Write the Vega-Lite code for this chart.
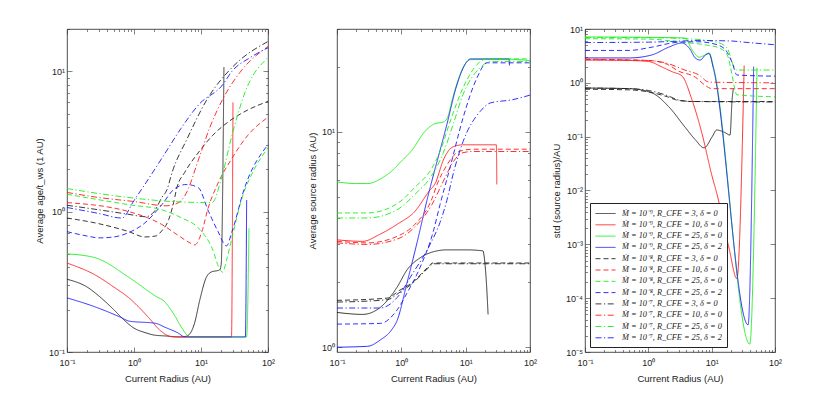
{
"$schema":"https://vega.github.io/schema/vega-lite/v6.json",
"background":"white",
"padding":{"left":34,"top":24,"right":5,"bottom":5},
"config":{
 "font":"Liberation Sans",
 "view":{"stroke":"#222","strokeWidth":0.8},
 "axis":{"grid":false,"domain":false,"labelFont":"Liberation Sans","labelFontSize":9,"titleFont":"Liberation Sans","titleFontSize":9.5,"titleFontWeight":"normal","labelColor":"#222","titleColor":"#222","tickColor":"#333","tickWidth":0.6,"labelOverlap":false,"labelFlush":false,"labelPadding":7.5,
  "tickSize":{"condition":{"test":"abs(log(datum.value)/LN10 - round(log(datum.value)/LN10)) < 0.001","value":-5},"value":-2.5},
  "labelExpr":"abs(log(datum.value)/LN10 - round(log(datum.value)/LN10)) < 0.001 ? '10' + (round(log(datum.value)/LN10) < 0 ? '⁻' : '') + ['⁰','¹','²','³','⁴','⁵'][abs(round(log(datum.value)/LN10))] : ''"},
 "axisX":{"labelPadding":11},
 "line":{"strokeWidth":0.9,"interpolate":"monotone","clip":true}
},
"datasets":{
"a":[
{"s":"9,3,0","x":0.1,"y":0.33},{"s":"9,3,0","x":0.2,"y":0.29},{"s":"9,3,0","x":0.31,"y":0.247},{"s":"9,3,0","x":0.5,"y":0.2},{"s":"9,3,0","x":0.7,"y":0.17},{"s":"9,3,0","x":1,"y":0.148},{"s":"9,3,0","x":1.5,"y":0.137},{"s":"9,3,0","x":2,"y":0.132},{"s":"9,3,0","x":3,"y":0.13},{"s":"9,3,0","x":5,"y":0.128},{"s":"9,3,0","x":6.2,"y":0.13},{"s":"9,3,0","x":8,"y":0.16},{"s":"9,3,0","x":9.6,"y":0.235},{"s":"9,3,0","x":12,"y":0.34},{"s":"9,3,0","x":14,"y":0.37},{"s":"9,3,0","x":19,"y":0.385},{"s":"9,3,0","x":20,"y":0.42},{"s":"9,3,0","x":22,"y":10.7},
{"s":"9,10,0","x":0.1,"y":0.43},{"s":"9,10,0","x":0.26,"y":0.355},{"s":"9,10,0","x":0.5,"y":0.29},{"s":"9,10,0","x":0.84,"y":0.243},{"s":"9,10,0","x":1.67,"y":0.175},{"s":"9,10,0","x":2.4,"y":0.144},{"s":"9,10,0","x":3.3,"y":0.13},{"s":"9,10,0","x":4,"y":0.128},{"s":"9,10,0","x":28.5,"y":0.128},{"s":"9,10,0","x":30,"y":6.0},
{"s":"9,25,0","x":0.1,"y":0.5},{"s":"9,25,0","x":0.26,"y":0.47},{"s":"9,25,0","x":0.84,"y":0.34},{"s":"9,25,0","x":2.1,"y":0.25},{"s":"9,25,0","x":2.9,"y":0.227},{"s":"9,25,0","x":3.3,"y":0.21},{"s":"9,25,0","x":4.1,"y":0.18},{"s":"9,25,0","x":5.2,"y":0.148},{"s":"9,25,0","x":6.4,"y":0.13},{"s":"9,25,0","x":7,"y":0.128},{"s":"9,25,0","x":48,"y":0.128},{"s":"9,25,0","x":52,"y":0.76},
{"s":"9,25,2","x":0.1,"y":0.243},{"s":"9,25,2","x":0.26,"y":0.21},{"s":"9,25,2","x":0.66,"y":0.175},{"s":"9,25,2","x":0.84,"y":0.166},{"s":"9,25,2","x":2.1,"y":0.16},{"s":"9,25,2","x":2.9,"y":0.15},{"s":"9,25,2","x":4.5,"y":0.137},{"s":"9,25,2","x":5.8,"y":0.128},{"s":"9,25,2","x":46,"y":0.128},{"s":"9,25,2","x":48,"y":1.21},
{"s":"8,3,0","x":0.1,"y":0.9},{"s":"8,3,0","x":0.3,"y":0.82},{"s":"8,3,0","x":0.84,"y":0.72},{"s":"8,3,0","x":1.45,"y":0.66},{"s":"8,3,0","x":2.1,"y":0.67},{"s":"8,3,0","x":2.6,"y":0.73},{"s":"8,3,0","x":3.3,"y":0.88},{"s":"8,3,0","x":3.8,"y":1.1},{"s":"8,3,0","x":4.4,"y":1.5},{"s":"8,3,0","x":5.7,"y":1.9},{"s":"8,3,0","x":9.5,"y":2.7},{"s":"8,3,0","x":15,"y":3.5},{"s":"8,3,0","x":30,"y":4.6},{"s":"8,3,0","x":50,"y":5.3},{"s":"8,3,0","x":100,"y":6.1},
{"s":"8,10,0","x":0.1,"y":1.16},{"s":"8,10,0","x":0.84,"y":1.0},{"s":"8,10,0","x":1.45,"y":0.92},{"s":"8,10,0","x":2.6,"y":0.81},{"s":"8,10,0","x":4.5,"y":0.68},{"s":"8,10,0","x":6.4,"y":0.61},{"s":"8,10,0","x":8.1,"y":0.58},{"s":"8,10,0","x":10.3,"y":0.72},{"s":"8,10,0","x":12.7,"y":1.05},{"s":"8,10,0","x":18,"y":1.6},{"s":"8,10,0","x":29,"y":2.4},{"s":"8,10,0","x":50,"y":3.5},{"s":"8,10,0","x":100,"y":4.7},
{"s":"8,25,0","x":0.1,"y":1.33},{"s":"8,25,0","x":0.84,"y":1.12},{"s":"8,25,0","x":2.6,"y":1.03},{"s":"8,25,0","x":5.2,"y":0.9},{"s":"8,25,0","x":9,"y":0.77},{"s":"8,25,0","x":14.6,"y":0.55},{"s":"8,25,0","x":19,"y":0.39},{"s":"8,25,0","x":21,"y":0.37},{"s":"8,25,0","x":24,"y":0.45},{"s":"8,25,0","x":29,"y":0.65},{"s":"8,25,0","x":41,"y":1.26},{"s":"8,25,0","x":57,"y":1.84},{"s":"8,25,0","x":100,"y":2.85},
{"s":"8,25,2","x":0.1,"y":0.72},{"s":"8,25,2","x":0.2,"y":0.67},{"s":"8,25,2","x":0.3,"y":0.65},{"s":"8,25,2","x":0.5,"y":0.66},{"s":"8,25,2","x":0.84,"y":0.71},{"s":"8,25,2","x":1.45,"y":0.83},{"s":"8,25,2","x":2.6,"y":1.12},{"s":"8,25,2","x":4,"y":1.45},{"s":"8,25,2","x":6,"y":1.56},{"s":"8,25,2","x":9,"y":1.49},{"s":"8,25,2","x":13,"y":1.0},{"s":"8,25,2","x":18,"y":0.72},{"s":"8,25,2","x":24,"y":0.57},{"s":"8,25,2","x":29,"y":0.72},{"s":"8,25,2","x":45,"y":1.49},{"s":"8,25,2","x":100,"y":3.0},
{"s":"7,3,0","x":0.1,"y":1.11},{"s":"7,3,0","x":0.3,"y":1.03},{"s":"7,3,0","x":0.8,"y":0.96},{"s":"7,3,0","x":1.5,"y":0.92},{"s":"7,3,0","x":2,"y":1.0},{"s":"7,3,0","x":2.6,"y":1.26},{"s":"7,3,0","x":3.1,"y":1.43},{"s":"7,3,0","x":3.7,"y":1.9},{"s":"7,3,0","x":6.2,"y":3.3},{"s":"7,3,0","x":12.3,"y":6.3},{"s":"7,3,0","x":30,"y":10.8},{"s":"7,3,0","x":100,"y":16.3},
{"s":"7,10,0","x":0.1,"y":1.37},{"s":"7,10,0","x":0.3,"y":1.26},{"s":"7,10,0","x":1,"y":1.18},{"s":"7,10,0","x":3,"y":1.1},{"s":"7,10,0","x":4.5,"y":1.15},{"s":"7,10,0","x":5.7,"y":1.29},{"s":"7,10,0","x":9.6,"y":2.5},{"s":"7,10,0","x":13.6,"y":4.0},{"s":"7,10,0","x":21,"y":6.3},{"s":"7,10,0","x":38,"y":9.8},{"s":"7,10,0","x":100,"y":15},
{"s":"7,25,0","x":0.1,"y":1.46},{"s":"7,25,0","x":0.84,"y":1.26},{"s":"7,25,0","x":3.7,"y":1.18},{"s":"7,25,0","x":14.6,"y":1.16},{"s":"7,25,0","x":20,"y":1.7},{"s":"7,25,0","x":29,"y":3.5},{"s":"7,25,0","x":45,"y":7},{"s":"7,25,0","x":100,"y":12.5},
{"s":"7,25,2","x":0.1,"y":1.07},{"s":"7,25,2","x":0.3,"y":0.97},{"s":"7,25,2","x":0.66,"y":0.9},{"s":"7,25,2","x":1,"y":1.2},{"s":"7,25,2","x":1.5,"y":1.6},{"s":"7,25,2","x":2.9,"y":2.6},{"s":"7,25,2","x":5,"y":3.9},{"s":"7,25,2","x":9.3,"y":5.8},{"s":"7,25,2","x":21,"y":8},{"s":"7,25,2","x":29,"y":10},{"s":"7,25,2","x":54,"y":12.5},{"s":"7,25,2","x":100,"y":14.7}
],
"b":[
{"s":"9,3,0","x":0.1,"y":1.45},{"s":"9,3,0","x":0.25,"y":1.42},{"s":"9,3,0","x":0.47,"y":1.53},{"s":"9,3,0","x":0.86,"y":1.9},{"s":"9,3,0","x":1.22,"y":2.28},{"s":"9,3,0","x":1.96,"y":2.6},{"s":"9,3,0","x":3.1,"y":2.77},{"s":"9,3,0","x":5.1,"y":2.83},{"s":"9,3,0","x":10.5,"y":2.83},{"s":"9,3,0","x":18.6,"y":2.8},{"s":"9,3,0","x":19.5,"y":2.6},{"s":"9,3,0","x":21,"y":2.0},{"s":"9,3,0","x":22.3,"y":1.42},
{"s":"9,10,0","x":0.1,"y":3.15},{"s":"9,10,0","x":0.25,"y":3.1},{"s":"9,10,0","x":0.47,"y":3.35},{"s":"9,10,0","x":0.9,"y":3.75},{"s":"9,10,0","x":1.6,"y":4.25},{"s":"9,10,0","x":2.7,"y":5.3},{"s":"9,10,0","x":3.4,"y":5.8},{"s":"9,10,0","x":4.5,"y":7.4},{"s":"9,10,0","x":6.3,"y":8.5},{"s":"9,10,0","x":9,"y":8.7},{"s":"9,10,0","x":30,"y":8.7},{"s":"9,10,0","x":30.5,"y":5.7},
{"s":"9,25,0","x":0.1,"y":5.85},{"s":"9,25,0","x":0.2,"y":5.75},{"s":"9,25,0","x":0.3,"y":5.75},{"s":"9,25,0","x":0.5,"y":6.1},{"s":"9,25,0","x":0.72,"y":6.6},{"s":"9,25,0","x":1.0,"y":7.3},{"s":"9,25,0","x":1.46,"y":8.2},{"s":"9,25,0","x":2.3,"y":10},{"s":"9,25,0","x":3.3,"y":10.9},{"s":"9,25,0","x":4.5,"y":11.1},{"s":"9,25,0","x":5.2,"y":11.6},{"s":"9,25,0","x":6.3,"y":14.4},{"s":"9,25,0","x":9.1,"y":19.8},{"s":"9,25,0","x":11.7,"y":21.6},{"s":"9,25,0","x":48,"y":21.7},{"s":"9,25,0","x":100,"y":21.4},
{"s":"9,25,2","x":0.1,"y":1.0},{"s":"9,25,2","x":0.3,"y":1.01},{"s":"9,25,2","x":0.47,"y":1.08},{"s":"9,25,2","x":0.7,"y":1.2},{"s":"9,25,2","x":0.86,"y":1.33},{"s":"9,25,2","x":1.22,"y":1.98},{"s":"9,25,2","x":1.75,"y":3.05},{"s":"9,25,2","x":2.5,"y":4.8},{"s":"9,25,2","x":5.1,"y":10.8},{"s":"9,25,2","x":7.3,"y":16.5},{"s":"9,25,2","x":10.5,"y":21.2},{"s":"9,25,2","x":12,"y":21.8},{"s":"9,25,2","x":47,"y":21.8},{"s":"9,25,2","x":48,"y":20.3},
{"s":"8,3,0","x":0.1,"y":1.65},{"s":"8,3,0","x":0.6,"y":1.69},{"s":"8,3,0","x":0.95,"y":1.84},{"s":"8,3,0","x":1.5,"y":2.0},{"s":"8,3,0","x":2.5,"y":2.33},{"s":"8,3,0","x":3.1,"y":2.46},{"s":"8,3,0","x":100,"y":2.46},
{"s":"7,3,0","x":0.1,"y":1.62},{"s":"7,3,0","x":0.6,"y":1.66},{"s":"7,3,0","x":0.95,"y":1.8},{"s":"7,3,0","x":1.5,"y":1.98},{"s":"7,3,0","x":2.5,"y":2.3},{"s":"7,3,0","x":3.2,"y":2.44},{"s":"7,3,0","x":100,"y":2.44},
{"s":"8,10,0","x":0.1,"y":3.1},{"s":"8,10,0","x":0.3,"y":3.05},{"s":"8,10,0","x":0.92,"y":3.3},{"s":"8,10,0","x":1.6,"y":3.7},{"s":"8,10,0","x":3.0,"y":4.9},{"s":"8,10,0","x":3.6,"y":5.7},{"s":"8,10,0","x":5.1,"y":7.0},{"s":"8,10,0","x":7.3,"y":8.0},{"s":"8,10,0","x":9.1,"y":8.2},{"s":"8,10,0","x":13,"y":8.3},{"s":"8,10,0","x":100,"y":8.3},
{"s":"7,10,0","x":0.1,"y":3.05},{"s":"7,10,0","x":0.3,"y":3.0},{"s":"7,10,0","x":0.92,"y":3.2},{"s":"7,10,0","x":1.6,"y":3.6},{"s":"7,10,0","x":3.0,"y":4.6},{"s":"7,10,0","x":4.5,"y":5.9},{"s":"7,10,0","x":6.5,"y":7.3},{"s":"7,10,0","x":9.1,"y":8.0},{"s":"7,10,0","x":13,"y":8.1},{"s":"7,10,0","x":100,"y":8.1},
{"s":"8,25,0","x":0.1,"y":4.2},{"s":"8,25,0","x":0.3,"y":4.2},{"s":"8,25,0","x":0.92,"y":4.7},{"s":"8,25,0","x":1.6,"y":5.5},{"s":"8,25,0","x":3.0,"y":6.8},{"s":"8,25,0","x":4.0,"y":8.1},{"s":"8,25,0","x":5.7,"y":11.1},{"s":"8,25,0","x":9.1,"y":16},{"s":"8,25,0","x":15,"y":20.5},{"s":"8,25,0","x":21.5,"y":21.8},{"s":"8,25,0","x":100,"y":21.8},
{"s":"7,25,0","x":0.1,"y":3.98},{"s":"7,25,0","x":0.3,"y":3.98},{"s":"7,25,0","x":0.92,"y":4.4},{"s":"7,25,0","x":1.6,"y":5.1},{"s":"7,25,0","x":3.0,"y":6.3},{"s":"7,25,0","x":4.5,"y":8.0},{"s":"7,25,0","x":6.5,"y":11},{"s":"7,25,0","x":9.1,"y":14.9},{"s":"7,25,0","x":16.7,"y":19.8},{"s":"7,25,0","x":24,"y":21.2},{"s":"7,25,0","x":100,"y":21.2},
{"s":"8,25,2","x":0.1,"y":1.28},{"s":"8,25,2","x":0.47,"y":1.29},{"s":"8,25,2","x":0.86,"y":1.49},{"s":"8,25,2","x":1.22,"y":1.78},{"s":"8,25,2","x":1.96,"y":2.35},{"s":"8,25,2","x":3.1,"y":3.4},{"s":"8,25,2","x":4.0,"y":4.6},{"s":"8,25,2","x":5.7,"y":6.8},{"s":"8,25,2","x":9.1,"y":11.6},{"s":"8,25,2","x":15,"y":17.8},{"s":"8,25,2","x":21.5,"y":20.9},{"s":"8,25,2","x":100,"y":20.9},
{"s":"7,25,2","x":0.1,"y":1.52},{"s":"7,25,2","x":0.47,"y":1.52},{"s":"7,25,2","x":0.86,"y":1.7},{"s":"7,25,2","x":1.5,"y":2.2},{"s":"7,25,2","x":2.8,"y":3.0},{"s":"7,25,2","x":4.0,"y":3.8},{"s":"7,25,2","x":5.1,"y":4.8},{"s":"7,25,2","x":6.5,"y":6.5},{"s":"7,25,2","x":9.1,"y":9.0},{"s":"7,25,2","x":16.7,"y":12.4},{"s":"7,25,2","x":24,"y":13.6},{"s":"7,25,2","x":54,"y":14.1},{"s":"7,25,2","x":100,"y":14.8}
],
"c":[
{"s":"9,3,0","x":0.1,"y":0.8},{"s":"9,3,0","x":0.5,"y":0.78},{"s":"9,3,0","x":1.14,"y":0.65},{"s":"9,3,0","x":2.1,"y":0.36},{"s":"9,3,0","x":3.8,"y":0.15},{"s":"9,3,0","x":5.5,"y":0.088},{"s":"9,3,0","x":7.6,"y":0.062},{"s":"9,3,0","x":10.2,"y":0.1},{"s":"9,3,0","x":12,"y":0.133},{"s":"9,3,0","x":16,"y":0.12},{"s":"9,3,0","x":19.5,"y":0.107},{"s":"9,3,0","x":21,"y":0.48},{"s":"9,3,0","x":22,"y":0.78},
{"s":"9,10,0","x":0.1,"y":2.65},{"s":"9,10,0","x":0.5,"y":2.6},{"s":"9,10,0","x":1.0,"y":2.5},{"s":"9,10,0","x":1.65,"y":1.96},{"s":"9,10,0","x":2.4,"y":1.6},{"s":"9,10,0","x":3.4,"y":1.34},{"s":"9,10,0","x":4.9,"y":0.48},{"s":"9,10,0","x":7.0,"y":0.117},{"s":"9,10,0","x":10.2,"y":0.018},{"s":"9,10,0","x":12,"y":0.009},{"s":"9,10,0","x":18.8,"y":0.00085},{"s":"9,10,0","x":25,"y":0.00023},{"s":"9,10,0","x":32.6,"y":2.1},
{"s":"9,25,0","x":0.1,"y":7.1},{"s":"9,25,0","x":1,"y":7.0},{"s":"9,25,0","x":3.8,"y":6.8},{"s":"9,25,0","x":4.9,"y":4.1},{"s":"9,25,0","x":6.3,"y":3.0},{"s":"9,25,0","x":7.5,"y":3.2},{"s":"9,25,0","x":9.1,"y":3.6},{"s":"9,25,0","x":10.8,"y":1.86},{"s":"9,25,0","x":40,"y":0.000014},{"s":"9,25,0","x":52,"y":1.9},
{"s":"9,25,2","x":0.1,"y":2.9},{"s":"9,25,2","x":0.5,"y":2.9},{"s":"9,25,2","x":1.14,"y":3.3},{"s":"9,25,2","x":2.1,"y":4.6},{"s":"9,25,2","x":3.4,"y":5.5},{"s":"9,25,2","x":4.5,"y":4.3},{"s":"9,25,2","x":5.5,"y":2.9},{"s":"9,25,2","x":6.6,"y":2.65},{"s":"9,25,2","x":8,"y":3.3},{"s":"9,25,2","x":9.1,"y":3.5},{"s":"9,25,2","x":10.6,"y":1.9},{"s":"9,25,2","x":37.6,"y":0.000032},{"s":"9,25,2","x":46,"y":2.0},
{"s":"8,3,0","x":0.1,"y":0.76},{"s":"8,3,0","x":0.5,"y":0.74},{"s":"8,3,0","x":1,"y":0.68},{"s":"8,3,0","x":2,"y":0.55},{"s":"8,3,0","x":3,"y":0.47},{"s":"8,3,0","x":5,"y":0.45},{"s":"8,3,0","x":100,"y":0.45},
{"s":"7,3,0","x":0.1,"y":0.8},{"s":"7,3,0","x":0.5,"y":0.78},{"s":"7,3,0","x":1,"y":0.72},{"s":"7,3,0","x":2,"y":0.58},{"s":"7,3,0","x":3,"y":0.48},{"s":"7,3,0","x":5,"y":0.45},{"s":"7,3,0","x":100,"y":0.44},
{"s":"8,10,0","x":0.1,"y":2.75},{"s":"8,10,0","x":1,"y":2.6},{"s":"8,10,0","x":2,"y":2.2},{"s":"8,10,0","x":3,"y":1.65},{"s":"8,10,0","x":5.5,"y":1.28},{"s":"8,10,0","x":7.8,"y":0.91},{"s":"8,10,0","x":10,"y":0.78},{"s":"8,10,0","x":100,"y":0.78},
{"s":"7,10,0","x":0.1,"y":2.7},{"s":"7,10,0","x":1,"y":2.6},{"s":"7,10,0","x":2,"y":2.3},{"s":"7,10,0","x":3.8,"y":1.72},{"s":"7,10,0","x":6.3,"y":1.4},{"s":"7,10,0","x":9.1,"y":1.03},{"s":"7,10,0","x":100,"y":1.0},
{"s":"8,25,0","x":0.1,"y":6.6},{"s":"8,25,0","x":1,"y":6.5},{"s":"8,25,0","x":3.3,"y":5.7},{"s":"8,25,0","x":8.5,"y":5.0},{"s":"8,25,0","x":13.5,"y":4.4},{"s":"8,25,0","x":17.6,"y":3.3},{"s":"8,25,0","x":21,"y":1.4},{"s":"8,25,0","x":23,"y":0.8},{"s":"8,25,0","x":25,"y":0.6},{"s":"8,25,0","x":100,"y":0.55},
{"s":"7,25,0","x":0.1,"y":7.0},{"s":"7,25,0","x":1,"y":6.9},{"s":"7,25,0","x":5,"y":6.5},{"s":"7,25,0","x":12,"y":5.7},{"s":"7,25,0","x":17.6,"y":4.4},{"s":"7,25,0","x":22,"y":2.1},{"s":"7,25,0","x":25,"y":1.73},{"s":"7,25,0","x":100,"y":1.73},
{"s":"8,25,2","x":0.1,"y":4.0},{"s":"8,25,2","x":0.5,"y":4.0},{"s":"8,25,2","x":1.14,"y":4.6},{"s":"8,25,2","x":3,"y":5.7},{"s":"8,25,2","x":6,"y":5.8},{"s":"8,25,2","x":9.4,"y":5.5},{"s":"8,25,2","x":15.6,"y":4.4},{"s":"8,25,2","x":21,"y":2.4},{"s":"8,25,2","x":25,"y":1.4},{"s":"8,25,2","x":100,"y":1.33},
{"s":"7,25,2","x":0.1,"y":5.6},{"s":"7,25,2","x":1,"y":5.7},{"s":"7,25,2","x":7,"y":6.1},{"s":"7,25,2","x":20,"y":6.0},{"s":"7,25,2","x":32,"y":5.7},{"s":"7,25,2","x":100,"y":5.1}
]
},
"bounds":"flush",
"spacing":69,
"hconcat":[
{
 "width":201,"height":323,
 "layer":[
  {"data":{"name":"a"},"mark":{"type":"line"},
   "encoding":{
    "x":{"field":"x","type":"quantitative","scale":{"type":"log","domain":[0.1,100],"nice":false},"axis":{"title":"Current Radius (AU)","values":[0.1,0.2,0.3,0.4,0.5,0.6,0.7,0.8,0.9,1,2,3,4,5,6,7,8,9,10,20,30,40,50,60,70,80,90,100]}},
    "y":{"field":"y","type":"quantitative","scale":{"type":"log","domain":[0.1,20],"nice":false},"axis":{"title":"Average age/t_ws (1 AU)","values":[0.1,0.2,0.3,0.4,0.5,0.6,0.7,0.8,0.9,1,2,3,4,5,6,7,8,9,10,20]}},
    "color":{"field":"s","type":"nominal","legend":null,"scale":{"domain":["9,3,0","9,10,0","9,25,0","9,25,2","8,3,0","8,10,0","8,25,0","8,25,2","7,3,0","7,10,0","7,25,0","7,25,2"],"range":["#222222","#ff1a1a","#1aee1a","#1a1aff","#222222","#ff1a1a","#1aee1a","#1a1aff","#222222","#ff1a1a","#1aee1a","#1a1aff"]}},
    "strokeDash":{"field":"s","type":"nominal","legend":null,"scale":{"domain":["9,3,0","9,10,0","9,25,0","9,25,2","8,3,0","8,10,0","8,25,0","8,25,2","7,3,0","7,10,0","7,25,0","7,25,2"],"range":[[1,0],[1,0],[1,0],[1,0],[5,3],[5,3],[5,3],[5,3],[6,2.5,1.2,2.5],[6,2.5,1.2,2.5],[6,2.5,1.2,2.5],[6,2.5,1.2,2.5]]}}
   }},
  {"mark":{"type":"text","align":"left","baseline":"middle","fontWeight":"bold","fontSize":9,"color":"#000"},
   "encoding":{"x":{"datum":0.119,"type":"quantitative","axis":{"orient":"top","labels":false,"title":null,"values":[0.1,0.2,0.3,0.4,0.5,0.6,0.7,0.8,0.9,1,2,3,4,5,6,7,8,9,10,20,30,40,50,60,70,80,90,100]}},"y":{"datum":16.4,"type":"quantitative","axis":{"orient":"right","labels":false,"title":null,"values":[0.1,0.2,0.3,0.4,0.5,0.6,0.7,0.8,0.9,1,2,3,4,5,6,7,8,9,10,20]}},"text":{"value":"a."}}}
 ],
 "resolve":{"axis":{"x":"independent","y":"independent"}}
},
{
 "bounds":"flush",
 "spacing":55,
 "hconcat":[
 {
 "width":193,"height":323,
 "layer":[
  {"data":{"name":"b"},"mark":{"type":"line"},
   "encoding":{
    "x":{"field":"x","type":"quantitative","scale":{"type":"log","domain":[0.1,100],"nice":false},"axis":{"title":"Current Radius (AU)","values":[0.1,0.2,0.3,0.4,0.5,0.6,0.7,0.8,0.9,1,2,3,4,5,6,7,8,9,10,20,30,40,50,60,70,80,90,100]}},
    "y":{"field":"y","type":"quantitative","scale":{"type":"log","domain":[0.95,30],"nice":false},"axis":{"title":"Average source radius (AU)","values":[1,2,3,4,5,6,7,8,9,10,20,30]}},
    "color":{"field":"s","type":"nominal","legend":null,"scale":{"domain":["9,3,0","9,10,0","9,25,0","9,25,2","8,3,0","8,10,0","8,25,0","8,25,2","7,3,0","7,10,0","7,25,0","7,25,2"],"range":["#222222","#ff1a1a","#1aee1a","#1a1aff","#222222","#ff1a1a","#1aee1a","#1a1aff","#222222","#ff1a1a","#1aee1a","#1a1aff"]}},
    "strokeDash":{"field":"s","type":"nominal","legend":null,"scale":{"domain":["9,3,0","9,10,0","9,25,0","9,25,2","8,3,0","8,10,0","8,25,0","8,25,2","7,3,0","7,10,0","7,25,0","7,25,2"],"range":[[1,0],[1,0],[1,0],[1,0],[5,3],[5,3],[5,3],[5,3],[6,2.5,1.2,2.5],[6,2.5,1.2,2.5],[6,2.5,1.2,2.5],[6,2.5,1.2,2.5]]}}
   }},
  {"mark":{"type":"text","align":"left","baseline":"middle","fontWeight":"bold","fontSize":9,"color":"#000"},
   "encoding":{"x":{"datum":0.12,"type":"quantitative","axis":{"orient":"top","labels":false,"title":null,"values":[0.1,0.2,0.3,0.4,0.5,0.6,0.7,0.8,0.9,1,2,3,4,5,6,7,8,9,10,20,30,40,50,60,70,80,90,100]}},"y":{"datum":26.3,"type":"quantitative","axis":{"orient":"right","labels":false,"title":null,"values":[1,2,3,4,5,6,7,8,9,10,20,30]}},"text":{"value":"b."}}}
 ],
 "resolve":{"axis":{"x":"independent","y":"independent"}}
 },
 {
 "width":190,"height":323,
 "layer":[
  {"data":{"name":"c"},"mark":{"type":"line"},
   "encoding":{
    "x":{"field":"x","type":"quantitative","scale":{"type":"log","domain":[0.1,100],"nice":false},"axis":{"title":"Current Radius (AU)","values":[0.1,0.2,0.3,0.4,0.5,0.6,0.7,0.8,0.9,1,2,3,4,5,6,7,8,9,10,20,30,40,50,60,70,80,90,100]}},
    "y":{"field":"y","type":"quantitative","scale":{"type":"log","domain":[0.00001,10],"nice":false},"axis":{"title":"std (source radius)/AU","values":[0.00001,0.00002,0.00003,0.00004,0.00005,0.00006,0.00007,0.00008,0.00009,0.0001,0.0002,0.0003,0.0004,0.0005,0.0006,0.0007,0.0008,0.0009,0.001,0.002,0.003,0.004,0.005,0.006,0.007,0.008,0.009,0.01,0.02,0.03,0.04,0.05,0.06,0.07,0.08,0.09,0.1,0.2,0.3,0.4,0.5,0.6,0.7,0.8,0.9,1,2,3,4,5,6,7,8,9,10]}},
    "color":{"field":"s","type":"nominal","scale":{"domain":["9,3,0","9,10,0","9,25,0","9,25,2","8,3,0","8,10,0","8,25,0","8,25,2","7,3,0","7,10,0","7,25,0","7,25,2"],"range":["#222222","#ff1a1a","#1aee1a","#1a1aff","#222222","#ff1a1a","#1aee1a","#1a1aff","#222222","#ff1a1a","#1aee1a","#1a1aff"]},
     "legend":{"title":null,"orient":"bottom-left","offset":5,"fillColor":"white","strokeColor":"#222","padding":5,"symbolType":"M-1,0H3","symbolSize":100,"symbolStrokeWidth":1.1,"labelOffset":16,"labelFont":"Liberation Serif","labelFontStyle":"italic","labelFontSize":8.3,"labelColor":"#222","rowPadding":2.3,"labelLimit":300,
      "labelExpr":"'Ṁ = 10⁻' + (slice(datum.label,0,1)=='9' ? '⁹' : slice(datum.label,0,1)=='8' ? '⁸' : '⁷') + ', R_CFE = ' + slice(datum.label,2,-2) + ', δ = ' + slice(datum.label,-1)"}},
    "strokeDash":{"field":"s","type":"nominal","scale":{"domain":["9,3,0","9,10,0","9,25,0","9,25,2","8,3,0","8,10,0","8,25,0","8,25,2","7,3,0","7,10,0","7,25,0","7,25,2"],"range":[[1,0],[1,0],[1,0],[1,0],[5,3],[5,3],[5,3],[5,3],[6,2.5,1.2,2.5],[6,2.5,1.2,2.5],[6,2.5,1.2,2.5],[6,2.5,1.2,2.5]]},
     "legend":{"title":null,"orient":"bottom-left","offset":5,"fillColor":"white","strokeColor":"#222","padding":5,"symbolType":"M-1,0H3","symbolSize":100,"symbolStrokeWidth":1.1,"labelOffset":16,"labelFont":"Liberation Serif","labelFontStyle":"italic","labelFontSize":8.3,"labelColor":"#222","rowPadding":2.3,"labelLimit":300,
      "labelExpr":"'Ṁ = 10⁻' + (slice(datum.label,0,1)=='9' ? '⁹' : slice(datum.label,0,1)=='8' ? '⁸' : '⁷') + ', R_CFE = ' + slice(datum.label,2,-2) + ', δ = ' + slice(datum.label,-1)"}}
   }},
  {"mark":{"type":"text","align":"left","baseline":"middle","fontWeight":"bold","fontSize":9,"color":"#000"},
   "encoding":{"x":{"datum":0.12,"type":"quantitative","axis":{"orient":"top","labels":false,"title":null,"values":[0.1,0.2,0.3,0.4,0.5,0.6,0.7,0.8,0.9,1,2,3,4,5,6,7,8,9,10,20,30,40,50,60,70,80,90,100]}},"y":{"datum":5.7,"type":"quantitative","axis":{"orient":"right","labels":false,"title":null,"values":[0.00001,0.0001,0.001,0.01,0.1,1,10]}},"text":{"value":"c."}}}
 ],
 "resolve":{"axis":{"x":"independent","y":"independent"},"legend":{"color":"independent","strokeDash":"independent"}}
 }
 ],
 "resolve":{"legend":{"color":"independent","strokeDash":"independent"}}
}
],
"resolve":{"legend":{"color":"independent","strokeDash":"independent"}}
}
